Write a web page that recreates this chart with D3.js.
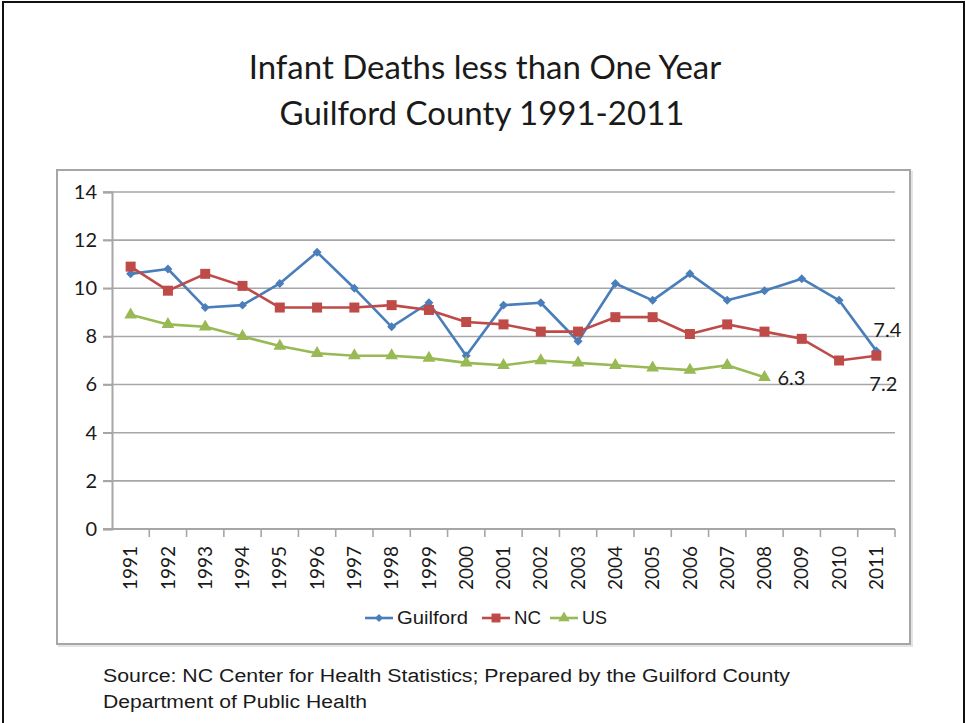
<!DOCTYPE html>
<html>
<head>
<meta charset="utf-8">
<script src="https://cdn.jsdelivr.net/npm/d3@7"></script>
<style>
  body { margin: 0; background: #fff; }
  text { font-family: Lato, "Open Sans", sans-serif; }
</style>
</head>
<body>
<script>
// years on the category axis
const years = ["1991", "1992", "1993", "1994", "1995", "1996", "1997", "1998", "1999", "2000",
  "2001", "2002", "2003", "2004", "2005", "2006", "2007", "2008", "2009", "2010", "2011"];

// infant deaths per 1,000 live births
const guilford = [10.6, 10.8, 9.2, 9.3, 10.2, 11.5, 10.0, 8.4, 9.4, 7.2,
  9.3, 9.4, 7.8, 10.2, 9.5, 10.6, 9.5, 9.9, 10.4, 9.5, 7.4];
const nc = [10.9, 9.9, 10.6, 10.1, 9.2, 9.2, 9.2, 9.3, 9.1, 8.6,
  8.5, 8.2, 8.2, 8.8, 8.8, 8.1, 8.5, 8.2, 7.9, 7.0, 7.2];
const us = [8.9, 8.5, 8.4, 8.0, 7.6, 7.3, 7.2, 7.2, 7.1, 6.9,
  6.8, 7.0, 6.9, 6.8, 6.7, 6.6, 6.8, 6.3, null, null, null];

const yTicks = [0, 2, 4, 6, 8, 10, 12, 14];

const W = 966, H = 723;
const svg = d3.select("body").append("svg")
    .attr("width", W)
    .attr("height", H);

// outer slide frame
svg.append("rect")
    .attr("x", 3).attr("y", 2)
    .attr("width", 961).attr("height", 740)
    .attr("fill", "none")
    .attr("stroke", "#111")
    .attr("stroke-width", 2);

// chart box
svg.append("rect")
    .attr("x", 59).attr("y", 172)
    .attr("width", 853).attr("height", 474)
    .attr("fill", "none")
    .attr("stroke", "#e4e4e4")
    .attr("stroke-width", 2);
svg.append("rect")
    .attr("x", 57).attr("y", 170)
    .attr("width", 853).attr("height", 474)
    .attr("fill", "#fff")
    .attr("stroke", "#a6a6a6")
    .attr("stroke-width", 2);

// title
const title = svg.append("text")
    .attr("text-anchor", "middle")
    .attr("fill", "#1a1a1a")
    .style("font-size", "33px");
title.append("tspan").attr("x", 485).attr("y", 79).text("Infant Deaths less than One Year");
title.append("tspan").attr("x", 482).attr("y", 125).text("Guilford County 1991-2011");

// scales
const x = d3.scaleBand().domain(years).range([112, 895]);
const y = d3.scaleLinear().domain([0, 14]).range([529, 192]);
const cx = d => x(d) + x.bandwidth() / 2;

// gridlines
svg.append("g")
    .selectAll("line")
    .data(yTicks.filter(d => d > 0))
    .join("line")
    .attr("x1", 103).attr("x2", 895)
    .attr("y1", d => y(d)).attr("y2", d => y(d))
    .attr("stroke", "#a6a6a6")
    .attr("stroke-width", 1.6);

// y axis
const yAxis = svg.append("g")
    .attr("transform", "translate(112,0)")
    .call(d3.axisLeft(y).tickValues(yTicks).tickSize(9).tickPadding(6).tickFormat(d3.format("d")));
yAxis.select(".domain").attr("stroke", "#a6a6a6").attr("stroke-width", 2);
yAxis.selectAll(".tick line").attr("stroke", "#a6a6a6").attr("stroke-width", 1.6);
yAxis.selectAll(".tick text")
    .attr("fill", "#1a1a1a")
    .style("font-size", "20px")
    .style("font-family", "Lato, sans-serif");

// x axis
const xAxis = svg.append("g")
    .attr("transform", "translate(0," + y(0) + ")")
    .call(d3.axisBottom(x).tickSize(0).tickPadding(0));
xAxis.select(".domain").remove();
xAxis.selectAll(".tick text")
    .attr("transform", "rotate(-90)")
    .attr("text-anchor", "end")
    .attr("x", -17)
    .attr("y", 0)
    .attr("dy", "0.35em")
    .attr("fill", "#1a1a1a")
    .style("font-size", "19px")
    .style("font-family", "Lato, sans-serif");

svg.append("line")
    .attr("x1", 103).attr("x2", 895)
    .attr("y1", y(0)).attr("y2", y(0))
    .attr("stroke", "#a6a6a6")
    .attr("stroke-width", 2);
svg.append("g")
    .selectAll("line")
    .data(years.slice(1).map(d => x(d)).concat([x.range()[1]]))
    .join("line")
    .attr("x1", d => d).attr("x2", d => d)
    .attr("y1", y(0)).attr("y2", y(0) + 8)
    .attr("stroke", "#a6a6a6")
    .attr("stroke-width", 1.6);

// series
const series = [
  {name: "Guilford", values: guilford, color: "#4a7ebb", symbol: d3.symbolSquare, size: 40, rotate: 45},
  {name: "NC", values: nc, color: "#be4b48", symbol: d3.symbolSquare, size: 100, rotate: 0},
  {name: "US", values: us, color: "#98b954", symbol: d3.symbolTriangle, size: 70, rotate: 0}
];

const line = d3.line()
    .defined(d => d.v != null)
    .x(d => cx(d.year))
    .y(d => y(d.v));

series.forEach(s => {
  const pts = years.map((year, i) => ({year: year, v: s.values[i]}));
  svg.append("path")
      .datum(pts)
      .attr("fill", "none")
      .attr("stroke", s.color)
      .attr("stroke-width", 2.6)
      .attr("stroke-linejoin", "round")
      .attr("d", line);
  svg.append("g")
      .selectAll("path")
      .data(pts.filter(d => d.v != null))
      .join("path")
      .attr("d", d3.symbol().type(s.symbol).size(s.size))
      .attr("transform", d => "translate(" + cx(d.year) + "," + y(d.v) + ") rotate(" + s.rotate + ")")
      .attr("fill", s.color);
});

// data labels on the last values
const labels = [
  {year: "2011", v: guilford[20], dx: -3, dy: -14},
  {year: "2011", v: nc[20], dx: -7, dy: 35},
  {year: "2008", v: us[17], dx: 13, dy: 8}
];
svg.append("g")
    .selectAll("text")
    .data(labels)
    .join("text")
    .attr("x", d => cx(d.year) + d.dx)
    .attr("y", d => y(d.v) + d.dy)
    .attr("fill", "#1a1a1a")
    .style("font-size", "20px")
    .text(d => d.v.toFixed(1));

// legend
const legendX = [365, 482, 550];
const legendW = [71, 27, 25];
const legend = svg.append("g")
    .selectAll("g")
    .data(series)
    .join("g")
    .attr("transform", (d, i) => "translate(" + legendX[i] + ",618)");
legend.append("line")
    .attr("x1", 0).attr("x2", 28)
    .attr("stroke", d => d.color)
    .attr("stroke-width", 2.6);
legend.append("path")
    .attr("d", d => d3.symbol().type(d.symbol).size(d.size * 0.8)())
    .attr("transform", d => "translate(14,0) rotate(" + d.rotate + ")")
    .attr("fill", d => d.color);
legend.append("text")
    .attr("x", 32)
    .attr("dy", "0.35em")
    .attr("fill", "#1a1a1a")
    .attr("textLength", (d, i) => legendW[i])
    .attr("lengthAdjust", "spacingAndGlyphs")
    .style("font-size", "18px")
    .style("font-family", "'Liberation Sans', Arial, sans-serif")
    .text(d => d.name);

// source note
const note = svg.append("text")
    .attr("fill", "#1a1a1a")
    .style("font-size", "18px")
    .style("font-family", "'Liberation Sans', Arial, sans-serif");
note.append("tspan").attr("x", 103).attr("y", 682)
    .attr("textLength", 687).attr("lengthAdjust", "spacingAndGlyphs")
    .text("Source: NC Center for Health Statistics; Prepared by the Guilford County");
note.append("tspan").attr("x", 103).attr("y", 708)
    .attr("textLength", 264).attr("lengthAdjust", "spacingAndGlyphs")
    .text("Department of Public Health");
</script>
</body>
</html>
